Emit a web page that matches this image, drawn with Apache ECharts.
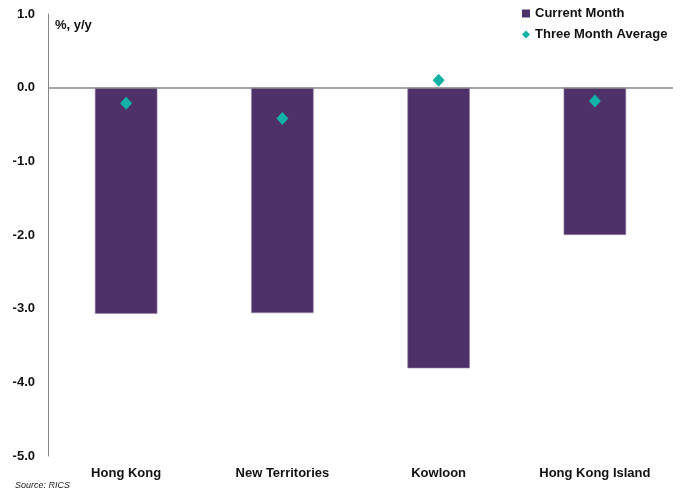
<!DOCTYPE html>
<html>
<head>
<meta charset="utf-8">
<script src="https://cdn.jsdelivr.net/npm/echarts@6/dist/echarts.min.js"></script>
<style>
html,body{margin:0;padding:0;background:#fff;}
#chart{width:682px;height:496px;}
</style>
</head>
<body>
<div id="chart"></div>
<script>
var categories = ['Hong Kong', 'New Territories', 'Kowloon', 'Hong Kong Island'];
var currentMonth = [-3.07, -3.06, -3.81, -2.00];
var threeMonthAvg = [-0.21, -0.42, 0.10, -0.18];
var yTicks = { min: -5, max: 1, interval: 1 };

var chart = echarts.init(document.getElementById('chart'));
var font = 'Liberation Sans, Arial, sans-serif';
chart.setOption({
  animation: false,
  backgroundColor: '#ffffff',
  grid: { left: 48, right: 9, top: 14, bottom: 40 },
  legend: {
    orient: 'vertical',
    left: 517,
    top: 2,
    itemGap: 8,
    itemWidth: 8,
    itemHeight: 8,
    textStyle: { fontFamily: font, fontWeight: 'bold', fontSize: 13, color: '#111' },
    data: [
      { name: 'Current Month', icon: 'rect', itemStyle: { borderWidth: 0, color: '#4E3169' } },
      { name: 'Three Month Average', icon: 'diamond', itemStyle: { color: '#12B2A6', opacity: 1 } }
    ]
  },
  graphic: [
    { type: 'text', left: 55, top: 19, style: { text: '%, y/y', font: 'bold 13px Liberation Sans, Arial, sans-serif', fill: '#111' } },
    { type: 'text', left: 15, top: 481, style: { text: 'Source: RICS', font: 'italic 9px Liberation Sans Narrow, Liberation Sans, Arial, sans-serif', fill: '#222' } }
  ],
  xAxis: {
    type: 'category',
    data: categories,
    axisLine: { show: false, onZero: false },
    axisTick: { show: false },
    axisLabel: { fontFamily: font, fontWeight: 'bold', fontSize: 13, color: '#111', margin: 11 }
  },
  yAxis: {
    type: 'value',
    min: yTicks.min,
    max: yTicks.max,
    interval: yTicks.interval,
    axisLine: { show: true, lineStyle: { color: '#888', width: 1 } },
    axisTick: { show: false },
    splitLine: { show: false },
    axisLabel: {
      fontFamily: font, fontWeight: 'bold', fontSize: 13, color: '#111', margin: 13,
      formatter: function (v) { return v.toFixed(1); }
    }
  },
  series: [
    {
      name: 'Current Month',
      type: 'bar',
      data: currentMonth,
      barWidth: '40%',
      itemStyle: { color: '#4E3169', borderColor: '#9a86b0', borderWidth: 0.6 },
      markLine: {
        silent: true,
        symbol: 'none',
        label: { show: false },
        lineStyle: { color: '#888', width: 1.5, type: 'solid' },
        data: [{ yAxis: 0 }]
      },
      z: 2
    },
    {
      name: 'Three Month Average',
      type: 'scatter',
      data: threeMonthAvg,
      symbol: 'diamond',
      symbolSize: [12, 13],
      itemStyle: { color: '#12B2A6', opacity: 1 },
      z: 5
    }
  ]
});
</script>
</body>
</html>
